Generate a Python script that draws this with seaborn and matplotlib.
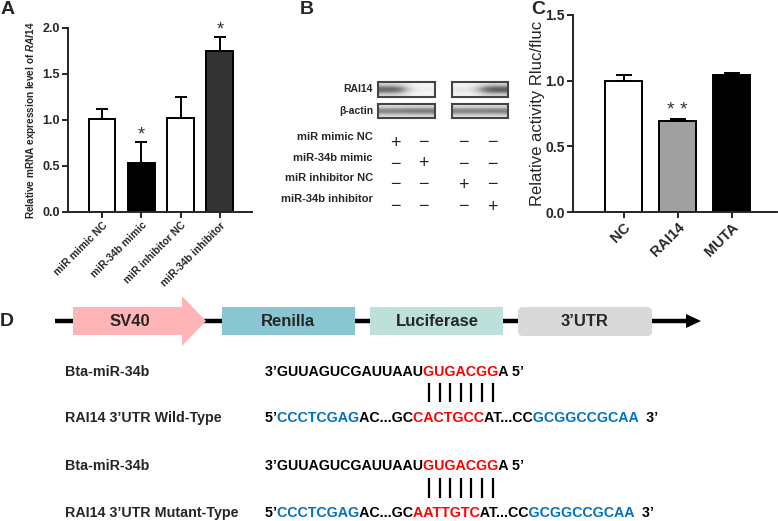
import numpy as np
import matplotlib
matplotlib.use("Agg")
import matplotlib.pyplot as plt
import seaborn as sns
from matplotlib.patches import Polygon, Rectangle, FancyBboxPatch
from matplotlib.font_manager import FontProperties
from matplotlib.transforms import Bbox, TransformedBbox

# panel A: relative mRNA expression
a_groups = ["miR mimic NC", "miR-34b mimic", "miR inhibitor NC", "miR-34b inhibitor"]
a_means = [1.01, 0.53, 1.02, 1.75]
a_sem = [0.11, 0.23, 0.23, 0.15]
a_stars = ["", "*", "", "*"]
a_yticks = [0.0, 0.5, 1.0, 1.5, 2.0]

# panel B: western blot (band darkness per lane) and treatment design
b_conditions = ["miR mimic NC", "miR-34b mimic", "miR inhibitor NC", "miR-34b inhibitor"]
b_design = [[1, 0, 0, 0],
            [0, 1, 0, 0],
            [0, 0, 1, 0],
            [0, 0, 0, 1]]
b_rai14 = [0.85, 0.12, 0.18, 0.9]
b_actin = [0.7, 0.75, 0.7, 0.72]

# panel C: dual luciferase
c_groups = ["NC", "RAI14", "MUTA"]
c_means = [1.00, 0.69, 1.04]
c_sem = [0.04, 0.02, 0.02]
c_stars = ["", "* *", ""]
c_yticks = [0.0, 0.5, 1.0, 1.5]

# panel D: construct and seed pairing
d_parts = ["SV40", "Renilla", "Luciferase", "3\u2019UTR"]
d_labels = ["Bta-miR-34b", "RAI14 3\u2019UTR Wild-Type", "Bta-miR-34b", "RAI14 3\u2019UTR Mutant-Type"]
mir_seq = [("3\u2019GUUAGUCGAUUAAU", "k"), ("GUGACGG", "r"), ("A 5\u2019", "k")]
wt_seq = [("5\u2019", "k"), ("CCCTCGAG", "b"), ("AC...GC", "k"), ("CACTGCC", "r"),
          ("AT...CC", "k"), ("GCGGCCGCAA", "b"), ("  3\u2019", "k")]
mut_seq = [("5\u2019", "k"), ("CCCTCGAG", "b"), ("AC...GC", "k"), ("AATTGTC", "r"),
           ("AT...CC", "k"), ("GCGGCCGCAA", "b"), ("  3\u2019", "k")]

seq_colors = {"k": "black", "r": "#FF0000", "b": "#0070C0"}

sns.set_style("ticks")
plt.rcParams['font.family'] = ['Liberation Sans', 'DejaVu Sans']
plt.rcParams['mathtext.fontset'] = 'custom'
plt.rcParams['mathtext.it'] = 'Liberation Sans:italic:bold'
plt.rcParams['mathtext.rm'] = 'Liberation Sans:bold'

W, H = 778, 521
DPI = 100
fig = plt.figure(figsize=(W / DPI, H / DPI), dpi=DPI)


def px_axes(left, top, right, bottom):
    return fig.add_axes([left / W, 1 - bottom / H, (right - left) / W, (bottom - top) / H])


def bar_panel(ax, groups, means, sem, colors, stars, star_off, star_fs, capsize, yticks, tick_fs, xlab_fs):
    n = len(groups)
    sns.barplot(x=groups, y=means, hue=groups, palette=colors, legend=False, saturation=1,
                width=0.68, edgecolor="black", linewidth=1.4, ax=ax)
    ax.errorbar(np.arange(n), means, yerr=[np.zeros(n), sem], fmt="none", ecolor="black",
                elinewidth=1.4, capsize=capsize, capthick=1.4, zorder=3)
    for i in range(n):
        if stars[i]:
            ax.text(i, means[i] + sem[i] + star_off, stars[i], ha="center", va="center",
                    fontsize=star_fs, color="#333333")
    sns.despine(ax=ax)
    for sp in ax.spines.values():
        sp.set_linewidth(1.4)
    ax.set_yticks(yticks)
    ax.set_yticklabels([f"{t:.1f}" for t in yticks], fontweight="bold", fontsize=tick_fs)
    ax.set_xticks(range(n))
    ax.set_xticklabels(groups, rotation=45, ha="right", rotation_mode="anchor",
                       fontweight="bold", fontsize=xlab_fs)
    ax.tick_params(width=1.4, length=4, pad=2)
    ax.set_xlabel("")


# ---- panel A
axA = px_axes(68, 28, 252, 212)
bar_panel(axA, a_groups, a_means, a_sem, ["white", "black", "white", "#333333"],
          a_stars, 0.08, 13, 4, a_yticks, 9, 7.5)
axA.set_xlim(-0.87, 3.82)
axA.set_ylim(0, 2.0)
axA.set_ylabel(r"Relative mRNA expression level of $\it{RAI14}$", fontsize=7.2,
               fontweight="bold", labelpad=3)

# ---- panel C
axC = px_axes(573, 15, 777, 212)
bar_panel(axC, c_groups, c_means, c_sem, ["white", "#A0A0A0", "black"],
          c_stars, 0.06, 14, 6, c_yticks, 10, 10.5)
axC.set_xlim(-0.94, 2.84)
axC.set_ylim(0, 1.5)
axC.set_ylabel("Relative activity Rluc/fluc", fontsize=12, labelpad=0)

# ---- overlay in pixel coordinates for B and D
ov = fig.add_axes([0, 0, 1, 1], zorder=-1)
ov.axis("off")
ov.set_xlim(0, W)
ov.set_ylim(H, 0)

for letter, x, y in [("A", 1, 10), ("B", 300, 10), ("C", 531, 10), ("D", 0, 322)]:
    ov.text(x, y, letter, fontsize=14, fontweight="bold", ha="left", va="center")


def blot(x0, x1, y0, y1, lanes):
    img = 0.04 + np.outer([0.2, 1.0, 0.2], np.repeat(lanes, 2))
    ov.imshow(img, cmap="Greys", vmin=0, vmax=1, interpolation="bicubic",
              extent=(x0, x1, y1, y0), aspect="auto")
    ov.add_patch(Rectangle((x0, y0), x1 - x0, y1 - y0, fill=False, ec="#444444", lw=1.5))


blot(378, 435, 82, 97, b_rai14[:2])
blot(452, 508, 82, 97, b_rai14[2:])
blot(378, 435, 104, 118, b_actin[:2])
blot(452, 508, 104, 118, b_actin[2:])
ov.text(373, 89, "RAI14", ha="right", va="center", fontsize=7.5, fontweight="bold")
ov.text(373, 111, "\u03b2-actin", ha="right", va="center", fontsize=7.5, fontweight="bold")

label_y = [137, 158, 178, 199]
sign_y = [143, 164, 185, 207]
lane_x = [395, 423, 463, 492]
for r, cond in enumerate(b_conditions):
    ov.text(373, label_y[r], cond, ha="right", va="center", fontsize=8, fontweight="bold")
    for c in range(4):
        ov.text(lane_x[c], sign_y[r], "+" if b_design[r][c] else "\u2212",
                ha="center", va="center", fontsize=13, color="#222222")

# construct diagram
ov.plot([55, 688], [321, 321], color="black", lw=3.2, solid_capstyle="butt", zorder=1)
ov.add_patch(Polygon([(686, 314), (701, 321), (686, 328)], closed=True, fc="black", ec="none", zorder=1))
ov.add_patch(Polygon([(73, 307), (182, 307), (182, 296), (206, 321), (182, 346), (182, 335), (73, 335)],
                     closed=True, fc="#FFB5B8", ec="none", zorder=2))
ov.add_patch(Rectangle((222, 307), 133, 28, fc="#8AC6D1", ec="none", zorder=2))
ov.add_patch(Rectangle((370, 307), 133, 28, fc="#BDE0DA", ec="none", zorder=2))
ov.add_patch(FancyBboxPatch((518, 307), 134, 29, boxstyle="round,pad=0,rounding_size=5",
                            fc="#D9D9D9", ec="none", zorder=2))
for name, cx in zip(d_parts, [130, 288, 437, 585]):
    ov.text(cx, 322, name, ha="center", va="center", fontsize=12, fontweight="bold", zorder=3)

# sequences: each row is one string, drawn once per colour and clipped to its pieces
SEQ_FS = 10.3
SEQ_X = 265
renderer = fig.canvas.get_renderer()
seq_prop = FontProperties(family="Liberation Sans", weight="bold", size=SEQ_FS)


def ink_w(s):
    return renderer.get_text_width_height_descent(s, seq_prop, ismath=False)[0]


def boundary(full, k):
    # midpoint between the ink of full[:k] and the ink of the next glyph
    return SEQ_X + 0.5 + (ink_w(full[:k]) + ink_w(full[:k + 1]) - ink_w(full[k])) / 2


row_y = [372, 418, 466, 513]
rows = [mir_seq, wt_seq, mir_seq, mut_seq]
bar_rows = []
for lab, y, segs in zip(d_labels, row_y, rows):
    ov.text(65, y, lab, ha="left", va="center", fontsize=SEQ_FS, fontweight="bold")
    full = "".join(s for s, _ in segs)
    k = 0
    for s, col in segs:
        xa = SEQ_X - 5 if k == 0 else boundary(full, k)
        xb = SEQ_X + ink_w(full) + 10 if k + len(s) >= len(full) else boundary(full, k + len(s))
        t = ov.text(SEQ_X, y, full, ha="left", va="center", fontsize=SEQ_FS,
                    fontweight="bold", color=seq_colors[col])
        t.set_clip_box(TransformedBbox(Bbox([[xa, y - 20], [xb, y + 20]]), ov.transData))
        t.set_clip_on(True)
        if col == "r" and segs is mir_seq:
            bar_rows.append([SEQ_X + 0.5 + ink_w(full[:k + i + 1]) - ink_w(full[k + i]) / 2
                             for i in range(len(s))])
        k += len(s)

for xs, (ya, yb) in zip(bar_rows, [(383, 402), (478, 498)]):
    ov.vlines(xs, ya, yb, color="black", lw=1.6)

ov.set_xlim(0, W)
ov.set_ylim(H, 0)

fig.savefig("out.png", dpi=DPI)
